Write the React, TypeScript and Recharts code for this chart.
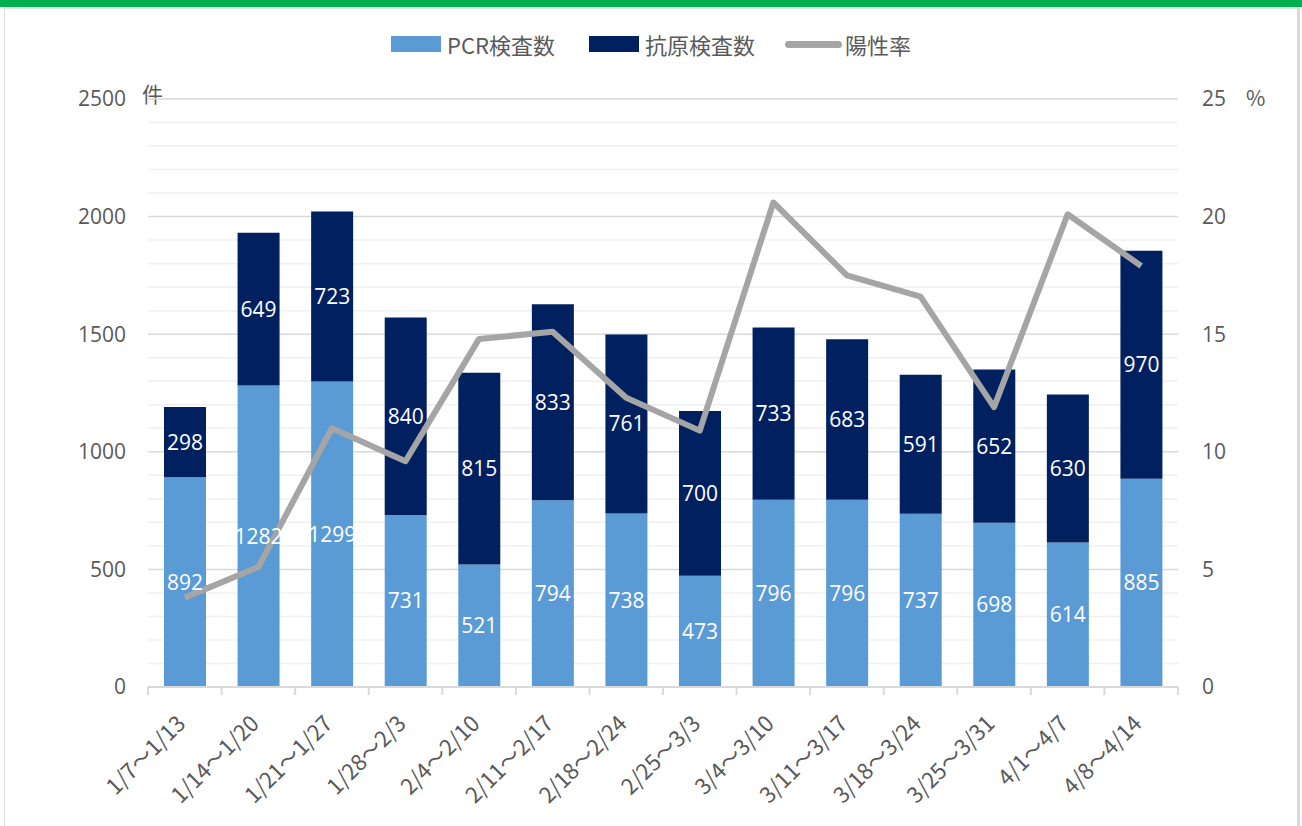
import React from "react";
import {
  ComposedChart,
  Bar,
  Line,
  XAxis,
  YAxis,
  CartesianGrid,
  LabelList,
} from "recharts";

const weeks = [
  "1/7〜1/13", "1/14〜1/20", "1/21〜1/27", "1/28〜2/3", "2/4〜2/10",
  "2/11〜2/17", "2/18〜2/24", "2/25〜3/3", "3/4〜3/10", "3/11〜3/17",
  "3/18〜3/24", "3/25〜3/31", "4/1〜4/7", "4/8〜4/14",
];
const pcrCounts = [892, 1282, 1299, 731, 521, 794, 738, 473, 796, 796, 737, 698, 614, 885];
const antigenCounts = [298, 649, 723, 840, 815, 833, 761, 700, 733, 683, 591, 652, 630, 970];
const positiveRate = [3.8, 5.1, 11.0, 9.6, 14.8, 15.1, 12.3, 10.9, 20.6, 17.5, 16.6, 11.9, 20.1, 17.9];

const leftTicks = [0, 500, 1000, 1500, 2000, 2500];
const rightTicks = [0, 5, 10, 15, 20, 25];
const minorTicks = [100, 200, 300, 400, 600, 700, 800, 900, 1100, 1200, 1300, 1400,
  1600, 1700, 1800, 1900, 2100, 2200, 2300, 2400];

const COLORS = {
  pcr: "#5b9bd5",
  antigen: "#002060",
  rate: "#a5a5a5",
  text: "#595959",
};

const FONT = '"Open Sans", "Noto Sans CJK JP", sans-serif';
const JP_FONT = '"Noto Sans CJK JP", sans-serif';

const data = weeks.map((week, i) => ({
  week,
  pcr: pcrCounts[i],
  antigen: antigenCounts[i],
  rate: positiveRate[i],
}));

const PLOT_LEFT = 148;
const PLOT_RIGHT = 1178;
const BAND = (PLOT_RIGHT - PLOT_LEFT) / weeks.length;

// minor gridlines placed through the left axis scale
function minorGridCoords({ yAxis, offset }: any) {
  if (yAxis && typeof yAxis.scale === "function") {
    return minorTicks.map((v) => yAxis.scale(v));
  }
  return minorTicks.map((v) => offset.top + offset.height * (1 - v / 2500));
}

function WeekTick(props: any) {
  const { x, y, payload, index } = props;
  const bx = x - BAND / 2;
  const tx = x + 2;
  const ty = y + 30;
  return (
    <g>
      <line x1={bx} y1={y - 8} x2={bx} y2={y} stroke="#d9d9d9" strokeWidth={2} />
      {index === weeks.length - 1 && (
        <line x1={bx + BAND} y1={y - 8} x2={bx + BAND} y2={y} stroke="#d9d9d9" strokeWidth={2} />
      )}
      <text
        x={tx}
        y={ty}
        textAnchor="end"
        fill={COLORS.text}
        fontSize={22}
        fontFamily={JP_FONT}
        transform={`rotate(-45, ${tx}, ${ty})`}
      >
        {payload.value}
      </text>
    </g>
  );
}

function LegendRow() {
  const item = { display: "flex", alignItems: "center" } as React.CSSProperties;
  const label = { fontSize: 22, color: COLORS.text, fontFamily: JP_FONT, marginLeft: 6 };
  return (
    <div
      style={{
        position: "absolute",
        top: 28,
        left: 0,
        width: 1302,
        display: "flex",
        justifyContent: "center",
      }}
    >
      <div style={{ ...item, marginRight: 34 }}>
        <div style={{ width: 50, height: 16, background: COLORS.pcr }} />
        <span style={label}>PCR検査数</span>
      </div>
      <div style={{ ...item, marginRight: 30 }}>
        <div style={{ width: 50, height: 16, background: COLORS.antigen }} />
        <span style={label}>抗原検査数</span>
      </div>
      <div style={item}>
        <div style={{ width: 57, height: 7, borderRadius: 4, background: COLORS.rate }} />
        <span style={{ ...label, marginLeft: 3 }}>陽性率</span>
      </div>
    </div>
  );
}

export default function App() {
  return (
    <div style={{ position: "absolute", left: 0, top: 0, width: 1302, height: 826, background: "#fff", overflow: "hidden" }}>
      {/* green header strip */}
      <div style={{ position: "absolute", left: 0, top: 0, width: 1302, height: 7, background: "#00b050" }} />
      {/* frame */}
      <div
        style={{
          position: "absolute",
          left: 4,
          top: 7,
          width: 1292,
          height: 830,
          borderLeft: "1px solid #d9d9d9",
          borderRight: "3px solid #d9d9d9",
          borderTop: "2px solid #dde6e6",
        }}
      />
      <LegendRow />
      <div style={{ position: "absolute", left: 142, top: 78, fontSize: 21, color: COLORS.text, fontFamily: JP_FONT }}>件</div>
      <div style={{ position: "absolute", left: 1246, top: 82, fontSize: 21, color: COLORS.text, fontFamily: JP_FONT }}>%</div>
      <div style={{ position: "absolute", left: 0, top: 0 }}>
        <ComposedChart
          width={1302}
          height={826}
          data={data}
          margin={{ top: 99, right: 24, bottom: 9, left: 0 }}
          barSize={42}
        >
          {/* minor grid every 100, major every 500 */}
          <CartesianGrid
            vertical={false}
            stroke="#f0f0f0"
            strokeWidth={1.5}
            horizontalCoordinatesGenerator={minorGridCoords}
          />
          <CartesianGrid vertical={false} stroke="#d9d9d9" strokeWidth={1.5} yAxisId="left" />
          <XAxis
            dataKey="week"
            interval={0}
            height={130}
            tick={<WeekTick />}
            tickLine={false}
            axisLine={{ stroke: "#d9d9d9", strokeWidth: 2 }}
          />
          <YAxis
            yAxisId="left"
            domain={[0, 2500]}
            ticks={leftTicks}
            width={148}
            axisLine={false}
            tickLine={false}
            tickSize={0}
            tickMargin={22}
            tick={{ fill: COLORS.text, fontSize: 21, fontFamily: FONT }}
          />
          <YAxis
            yAxisId="right"
            orientation="right"
            domain={[0, 25]}
            ticks={rightTicks}
            width={100}
            axisLine={false}
            tickLine={false}
            tickSize={0}
            tickMargin={24}
            tick={{ fill: COLORS.text, fontSize: 21, fontFamily: FONT, textAnchor: "start" }}
          />
          <Bar yAxisId="left" dataKey="pcr" stackId="a" fill={COLORS.pcr} isAnimationActive={false}>
            <LabelList dataKey="pcr" position="center" fill="#fff" fontSize={21} fontFamily={FONT} />
          </Bar>
          <Bar yAxisId="left" dataKey="antigen" stackId="a" fill={COLORS.antigen} isAnimationActive={false}>
            <LabelList dataKey="antigen" position="center" fill="#fff" fontSize={21} fontFamily={FONT} />
          </Bar>
          <Line
            yAxisId="right"
            dataKey="rate"
            type="linear"
            stroke={COLORS.rate}
            strokeWidth={6}
            strokeLinejoin="round"
            dot={false}
            activeDot={false}
            isAnimationActive={false}
          />
        </ComposedChart>
      </div>
    </div>
  );
}
